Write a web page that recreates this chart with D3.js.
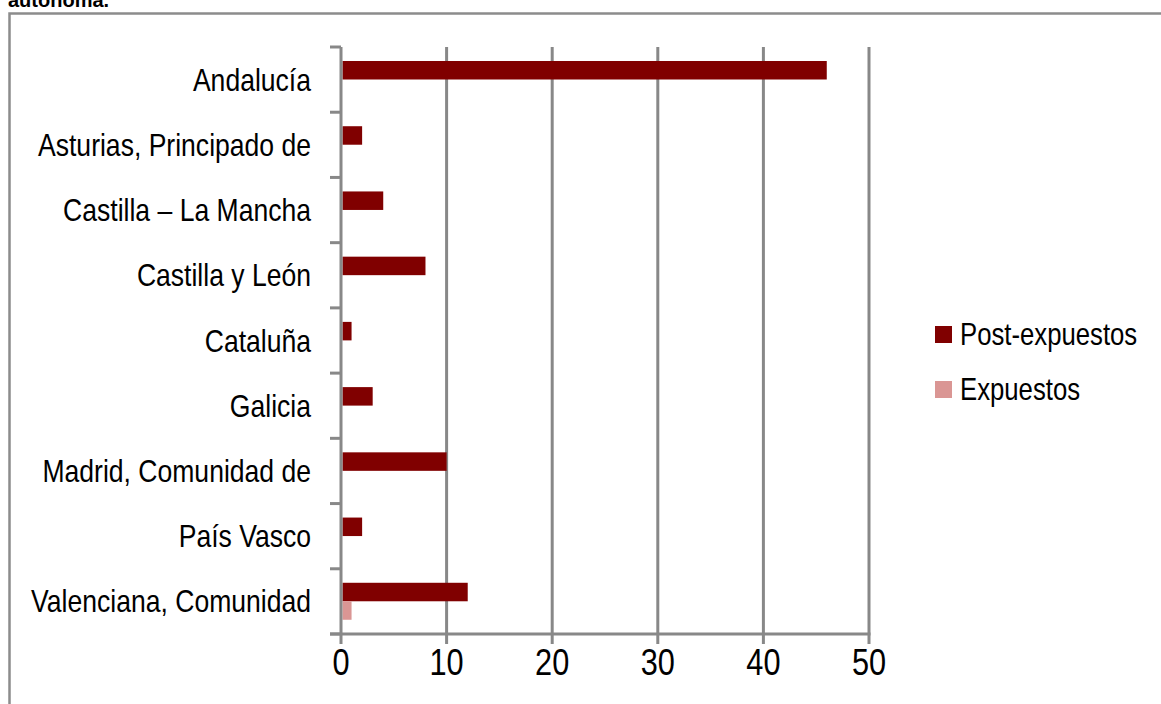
<!DOCTYPE html>
<html>
<head>
<meta charset="utf-8">
<script src="https://cdn.jsdelivr.net/npm/d3@7"></script>
<style>
  body { margin: 0; background: #fff; }
  text { font-family: "Liberation Sans", Arial, sans-serif; fill: #000; }
</style>
</head>
<body>
<div id="chart"></div>
<script>
// data
var categories = ["Andalucía", "Asturias, Principado de", "Castilla – La Mancha", "Castilla y León",
                  "Cataluña", "Galicia", "Madrid, Comunidad de", "País Vasco", "Valenciana, Comunidad"];
var seriesNames = ["Post-expuestos", "Expuestos"];
var postExpuestos = [46, 2, 4, 8, 1, 3, 10, 2, 12];
var expuestos = [0, 0, 0, 0, 0, 0, 0, 0, 1];
var xTicks = [0, 10, 20, 30, 40, 50];
var colors = ["#800000", "#da9694"];

var W = 1161, H = 704;
var GRID = "#888888";
var NARROW = 0.83; // no Arial Narrow installed, squeeze Liberation Sans instead

var svg = d3.select("#chart").append("svg")
    .attr("width", W).attr("height", H);

// put a squeezed text at (px, py)
function narrowText(sel, px, py) {
    return sel.attr("transform", function(d, i) {
        return "translate(" + px(d, i) + "," + py(d, i) + ") scale(" + NARROW + ",1)";
    });
}

// title, mostly cut off at the top
svg.append("text")
    .attr("x", 8).attr("y", 7)
    .style("font-weight", "bold")
    .style("font-size", "20px")
    .text("autónoma.");

// chart frame (runs off the right and bottom)
svg.append("rect")
    .attr("x", 9.5).attr("y", 13.5)
    .attr("width", W).attr("height", H)
    .attr("fill", "none")
    .attr("stroke", "#8c8c8c")
    .attr("stroke-width", 2.5);

var x = d3.scaleLinear().domain([0, 50]).range([341, 869]);
var y0 = d3.scaleBand().domain(categories).range([47, 634]).padding(0);
var y1 = d3.scaleBand().domain(seriesNames).range([14, 51]).padding(0);

// vertical gridlines
svg.selectAll(".grid").data(xTicks.slice(1)).enter().append("line")
    .attr("x1", function(d) { return x(d); })
    .attr("x2", function(d) { return x(d); })
    .attr("y1", 47).attr("y2", 644)
    .attr("stroke", GRID).attr("stroke-width", 3);

// bars
var rows = categories.map(function(c, i) {
    return { cat: c, vals: [postExpuestos[i], expuestos[i]] };
});
var groups = svg.selectAll(".cat").data(rows).enter().append("g")
    .attr("transform", function(d) { return "translate(0," + y0(d.cat) + ")"; });
groups.selectAll("rect").data(function(d) {
        return d.vals.map(function(v, j) { return { s: seriesNames[j], v: v, j: j }; });
    }).enter().append("rect")
    .attr("x", x(0) + 1.5)
    .attr("y", function(d) { return y1(d.s); })
    .attr("width", function(d) { return Math.max(0, x(d.v) - x(0) - 1.5); })
    .attr("height", y1.bandwidth())
    .attr("fill", function(d) { return colors[d.j]; });

// vertical (category) axis
svg.append("line")
    .attr("x1", x(0)).attr("x2", x(0))
    .attr("y1", 47).attr("y2", 644)
    .attr("stroke", GRID).attr("stroke-width", 3);
var bounds = categories.map(function(c) { return y0(c); }).concat([634]);
svg.selectAll(".ytick").data(bounds).enter().append("line")
    .attr("x1", 330).attr("x2", x(0))
    .attr("y1", function(d) { return d; })
    .attr("y2", function(d) { return d; })
    .attr("stroke", GRID).attr("stroke-width", 3);

// horizontal (value) axis
svg.append("line")
    .attr("x1", 330).attr("x2", x(50) + 1.5)
    .attr("y1", 634).attr("y2", 634)
    .attr("stroke", GRID).attr("stroke-width", 3);

narrowText(svg.selectAll(".xlabel").data(xTicks).enter().append("text"),
        function(d) { return x(d); }, function() { return 675; })
    .attr("text-anchor", "middle")
    .style("font-size", "37px")
    .text(function(d) { return d; });

// category labels
narrowText(svg.selectAll(".ylabel").data(categories).enter().append("text"),
        function() { return 311; },
        function(d) { return y0(d) + y0.bandwidth() / 2 + 11; })
    .attr("text-anchor", "end")
    .style("font-size", "32px")
    .text(function(d) { return d; });

// legend
var legend = svg.selectAll(".legend").data(seriesNames).enter().append("g")
    .attr("transform", function(d, i) { return "translate(935," + (326 + i * 55) + ")"; });
legend.append("rect")
    .attr("width", 17).attr("height", 17)
    .attr("fill", function(d, i) { return colors[i]; });
narrowText(legend.append("text"), function() { return 25; }, function() { return 19; })
    .style("font-size", "31px")
    .text(function(d) { return d; });
</script>
</body>
</html>
